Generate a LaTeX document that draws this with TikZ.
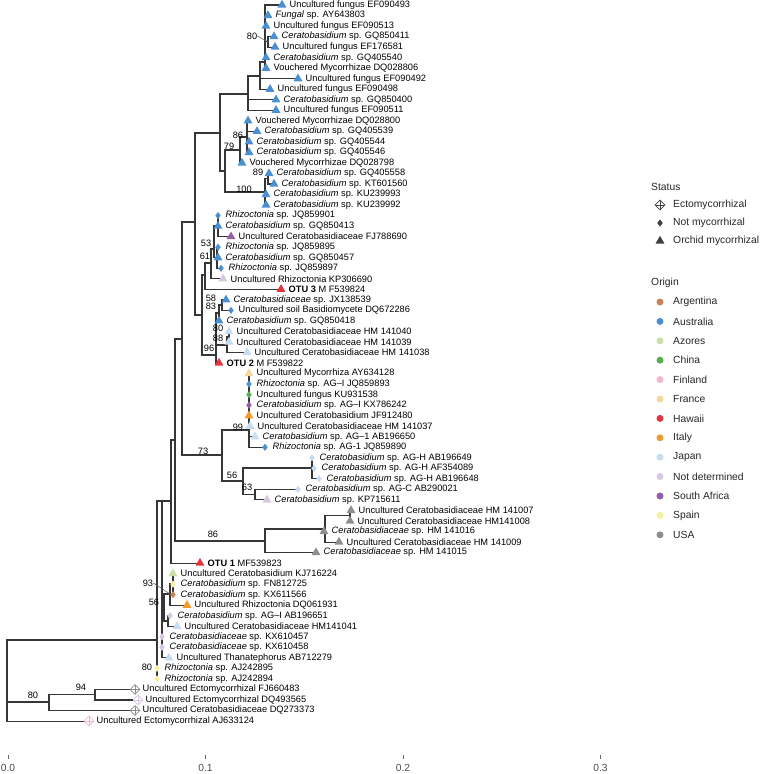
\documentclass[tikz,border=0pt]{standalone}
\usepackage{fontspec}
\setmainfont{Liberation Sans}
\usetikzlibrary{shapes.geometric,backgrounds}

\definecolor{argentina}{HTML}{C8825C}
\definecolor{australia}{HTML}{4A8FD1}
\definecolor{azores}{HTML}{C9DFA6}
\definecolor{china}{HTML}{55AE4F}
\definecolor{finland}{HTML}{F2B6C6}
\definecolor{france}{HTML}{F6D59E}
\definecolor{hawaii}{HTML}{E2353F}
\definecolor{italy}{HTML}{F29A2E}
\definecolor{japan}{HTML}{C6DCF0}
\definecolor{notdet}{HTML}{D9C6E1}
\definecolor{safrica}{HTML}{975CA6}
\definecolor{spain}{HTML}{F7EFA2}
\definecolor{usa}{HTML}{8E8E8E}
\definecolor{branch}{HTML}{363636}

\begin{document}
\begin{tikzpicture}[x=0.03cm, y=-0.03cm]
    % Define styles
    \tikzset{
        edge/.style={
            draw=branch,
            line width=0.9pt
        },
        leader/.style={
            draw=black!60,
            line width=0.5pt
        },
        tri/.style={
            regular polygon,
            regular polygon sides=3,
            inner sep=0pt,
            minimum size=0.31cm,
            fill=tipc
        },
        dia/.style={
            diamond,
            inner sep=0pt,
            minimum width=0.17cm,
            minimum height=0.22cm,
            fill=tipc
        },
        ecto/.style={
            diamond,
            inner sep=0pt,
            minimum size=0.3cm,
            draw=tipc,
            fill=white,
            line width=0.6pt,
            path picture={\draw[tipc, line width=0.6pt]
                (path picture bounding box.north) -- (path picture bounding box.south)
                (path picture bounding box.west) -- (path picture bounding box.east);}
        },
        leaf/.style={
            anchor=west,
            inner sep=0pt,
            font=\fontsize{7.9}{9}\selectfont
        },
        boot/.style={
            inner sep=0pt,
            font=\fontsize{7.9}{9}\selectfont
        },
        key/.style={
            anchor=west,
            inner sep=0pt,
            text=black!85,
            font=\fontsize{8.8}{10}\selectfont
        },
        dot/.style={
            circle,
            inner sep=0pt,
            minimum size=0.21cm,
            fill=#1
        }
    }
    \useasboundingbox (0,0) rectangle (762,774);

    % Tips
    \foreach \i/\tx/\shp/\col/\txt in {
        1/282/tri/australia/{Uncultured fungus EF090493},
        2/268/tri/australia/{\textit{Fungal} sp. AY643803},
        3/266/tri/australia/{Uncultured fungus EF090513},
        4/274/tri/australia/{\textit{Ceratobasidium} sp. GQ850411},
        5/275/tri/australia/{Uncultured fungus EF176581},
        6/266/tri/australia/{\textit{Ceratobasidium} sp. GQ405540},
        7/266/tri/australia/{Vouchered Mycorrhizae DQ028806},
        8/298/tri/australia/{Uncultured fungus EF090492},
        9/270/tri/australia/{Uncultured fungus EF090498},
        10/276/tri/australia/{\textit{Ceratobasidium} sp. GQ850400},
        11/276/tri/australia/{Uncultured fungus EF090511},
        12/248/tri/australia/{Vouchered Mycorrhizae DQ028800},
        13/257/tri/australia/{\textit{Ceratobasidium} sp. GQ405539},
        14/249/tri/australia/{\textit{Ceratobasidium} sp. GQ405544},
        15/249/tri/australia/{\textit{Ceratobasidium} sp. GQ405546},
        16/242/tri/australia/{Vouchered Mycorrhizae DQ028798},
        17/269/tri/australia/{\textit{Ceratobasidium} sp. GQ405558},
        18/274/tri/australia/{\textit{Ceratobasidium} sp. KT601560},
        19/266/tri/australia/{\textit{Ceratobasidium} sp. KU239993},
        20/266/tri/australia/{\textit{Ceratobasidium} sp. KU239992},
        21/218/dia/australia/{\textit{Rhizoctonia} sp. JQ859901},
        22/218/tri/australia/{\textit{Ceratobasidium} sp. GQ850413},
        23/231/tri/safrica/{Uncultured Ceratobasidiaceae FJ788690},
        24/218/dia/australia/{\textit{Rhizoctonia} sp. JQ859895},
        25/218/tri/australia/{\textit{Ceratobasidium} sp. GQ850457},
        26/221/dia/australia/{\textit{Rhizoctonia} sp. JQ859897},
        27/223/tri/notdet/{Uncultured Rhizoctonia KP306690},
        28/281/tri/hawaii/{\textbf{OTU 3} M F539824},
        29/226/tri/australia/{\textit{Ceratobasidiaceae} sp. JX138539},
        30/231/dia/australia/{Uncultured soil Basidiomycete DQ672286},
        31/219/tri/australia/{\textit{Ceratobasidium} sp. GQ850418},
        32/229/tri/japan/{Uncultured Ceratobasidiaceae HM 141040},
        33/229/tri/japan/{Uncultured Ceratobasidiaceae HM 141039},
        34/247/tri/japan/{Uncultured Ceratobasidiaceae HM 141038},
        35/219/tri/hawaii/{\textbf{OTU 2} M F539822},
        36/249/tri/france/{Uncultured Mycorrhiza AY634128},
        37/249/dia/australia/{\textit{Rhizoctonia} sp. AG–I JQ859893},
        38/249/dia/china/{Uncultured fungus KU931538},
        39/249/dia/safrica/{\textit{Ceratobasidium} sp. AG–I KX786242},
        40/249/tri/italy/{Uncultured Ceratobasidium JF912480},
        41/250/tri/japan/{Uncultured Ceratobasidiaceae HM 141037},
        42/255/tri/japan/{\textit{Ceratobasidium} sp. AG–1 AB196650},
        43/265/dia/australia/{\textit{Rhizoctonia} sp. AG-1 JQ859890},
        44/312/dia/japan/{\textit{Ceratobasidium} sp. AG-H AB196649},
        45/314/dia/japan/{\textit{Ceratobasidium} sp. AG-H AF354089},
        46/319/dia/japan/{\textit{Ceratobasidium} sp. AG-H AB196648},
        47/298/dia/japan/{\textit{Ceratobasidium} sp. AG-C AB290021},
        48/267/tri/notdet/{\textit{Ceratobasidium} sp. KP715611},
        49/351/tri/usa/{Uncultured Ceratobasidiaceae HM 141007},
        50/350/tri/usa/{Uncultured Ceratobasidiaceae HM141008},
        51/324/tri/usa/{\textit{Ceratobasidiaceae} sp. HM 141016},
        52/339/tri/usa/{Uncultured Ceratobasidiaceae HM 141009},
        53/316/tri/usa/{\textit{Ceratobasidiaceae} sp. HM 141015},
        54/200/tri/hawaii/{\textbf{OTU 1} MF539823},
        55/173/tri/azores/{Uncultured Ceratobasidium KJ716224},
        56/173/dia/spain/{\textit{Ceratobasidium} sp. FN812725},
        57/173/dia/argentina/{\textit{Ceratobasidium} sp. KX611566},
        58/187/tri/italy/{Uncultured Rhizoctonia DQ061931},
        59/170/dia/notdet/{\textit{Ceratobasidium} sp. AG–I AB196651},
        60/177/tri/japan/{Uncultured Ceratobasidiaceae HM141041},
        61/162/dia/notdet/{\textit{Ceratobasidiaceae} sp. KX610457},
        62/162/dia/notdet/{\textit{Ceratobasidiaceae} sp. KX610458},
        63/169/tri/japan/{Uncultured Thanatephorus AB712279},
        64/157/dia/spain/{\textit{Rhizoctonia} sp. AJ242895},
        65/157/dia/spain/{\textit{Rhizoctonia} sp. AJ242894},
        66/135/ecto/usa/{Uncultured Ectomycorrhizal FJ660483},
        67/138/ecto/notdet/{Uncultured Ectomycorrhizal DQ493565},
        68/135/ecto/usa/{Uncultured Ceratobasidiaceae DQ273373},
        69/89/ecto/finland/{Uncultured Ectomycorrhizal AJ633124}}
    {
        \pgfmathsetmacro\yy{5+(\i-1)*10.53}
        \colorlet{tipc}{\col}
        \node[\shp] (t\i) at (\tx,\yy) {};
        \node[leaf] (l\i) at (\tx+7.5,\yy) {\txt};
    }

    % Internal nodes
    \foreach \n/\nx/\ny in {
        c80/268/41.9, cC/265/62, cB/260/76, cA/248/94,
        c86/247/137, c79/240/150, c89/268/178.7, c100/265/192,
        cD/225/171, cAD/220/133,
        g1/218/226, g2/217/257.7, c53/214/249, c61/211/263, cG/205/275,
        c58/222/305, c83/219/313, c80p/229/336.7, c88/227/345,
        cQ/216/355, cH/202/315, cE/195/222,
        c99/249/430, cAGH/312/468, c63/255/494.6, c56/243/481,
        c73/222/455, cF/182/339,
        u3/350/515.7, u2/325/529, u1/265/541,
        cK/175/440, cL1/171/501,
        c93a/173/584, c93/170/594, c59/168/621, c56b/164/607,
        cL2/162/501, c80b/157/673.6, cI/157/640,
        c94/95/694.7, cEc/49/702, root/7/680}
        \coordinate (\n) at (\nx,\ny);

    % Branches
    \begin{scope}[on background layer]
        \foreach \p/\cs in {
            c80/{t4,t5}, cC/{t1,t2,t3,c80,t6,t7}, cB/{cC,t8,t9},
            cA/{cB,t10,t11},
            c86/{t12,t13,t14,t15}, c79/{c86,t16}, c89/{t17,t18},
            c100/{c89,t19,t20}, cD/{c79,c100}, cAD/{cA,cD},
            g1/{t21,t22,t23}, g2/{t24,t25,t26}, c53/{g1,g2},
            c61/{c53,t27}, cG/{c61,t28},
            c58/{t29,t30}, c83/{c58,t31}, c80p/{t32,t33},
            c88/{c80p,t34}, cQ/{c83,c88,t35}, cH/{cG,cQ}, cE/{cAD,cH},
            c99/{t36,t37,t38,t39,t40,t41,t42,t43}, cAGH/{t44,t45,t46},
            c63/{t47,t48}, c56/{cAGH,c63}, c73/{c99,c56}, cF/{cE,c73},
            u3/{t49,t50}, u2/{u3,t51,t52}, u1/{u2,t53},
            cK/{cF,u1}, cL1/{cK,t54},
            c93a/{t55,t56,t57}, c93/{c93a,t58}, c59/{t59,t60},
            c56b/{c93,c59}, cL2/{cL1,c56b,t61,t62,t63},
            c80b/{t64,t65}, cI/{cL2,c80b},
            c94/{t66,t67}, cEc/{c94,t68}, root/{cI,cEc,t69}}
        {
            \foreach \c in \cs
                \draw[edge] (\p) |- (\c.center);
        }
    \end{scope}

    % Bootstrap values
    \foreach \n/\bx/\by/\v in {
        b1/252/36/80, b2/238/135/86, b3/229/146/79, b4/258/172/89,
        b5/244/189/100, b6/206/243/53, b7/205/256/61, b8/211/298/58,
        b9/211/306/83, b10/218/328/80, b11/218/338/88, b12/209/348/96,
        b13/238/427/99, b14/203/451/73, b15/232/475/56, b16/247/487/63,
        b17/213/534/86, b18/148/583/93, b19/154/602/56, b20/147/667/80,
        b21/81/687/94, b22/33/695/80}
        \node[boot] (\n) at (\bx,\by) {\v};
    \draw[leader] (b1.east) -- (c80);
    \draw[leader] (b18.east) -- (c93);

    % Scale
    \foreach \v/\xx in {0.0/8, 0.1/205.5, 0.2/403, 0.3/600.5} {
        \draw[black!60, line width=0.6pt] (\xx,755) -- (\xx,759);
        \node[boot, text=black!70, font=\fontsize{8.8}{10}\selectfont] at (\xx,768) {\v};
    }

    % Legend: status
    \node[key] (status) at (651,187) {Status};
    \begin{scope}
        \colorlet{tipc}{black!75}
        \node[ecto] (s1) at (660,205) {};
        \node[dia] (s2) at (660,223) {};
        \node[tri] (s3) at (660,241) {};
    \end{scope}
    \node[key] at (673,205) {Ectomycorrhizal};
    \node[key] at (673,223) {Not mycorrhizal};
    \node[key] at (673,241) {Orchid mycorrhizal};

    % Legend: origin
    \node[key] (origin) at (651,283) {Origin};
    \foreach \k/\col/\name in {0/argentina/Argentina, 1/australia/Australia,
        2/azores/Azores, 3/china/China, 4/finland/Finland, 5/france/France,
        6/hawaii/Hawaii, 7/italy/Italy, 8/japan/Japan,
        9/notdet/Not determined, 10/safrica/South Africa, 11/spain/Spain,
        12/usa/USA} {
        \node[dot=\col] (o\k) at (660,302+\k*19.4) {};
        \node[key] at (673,302+\k*19.4) {\name};
    }
\end{tikzpicture}
\end{document}
